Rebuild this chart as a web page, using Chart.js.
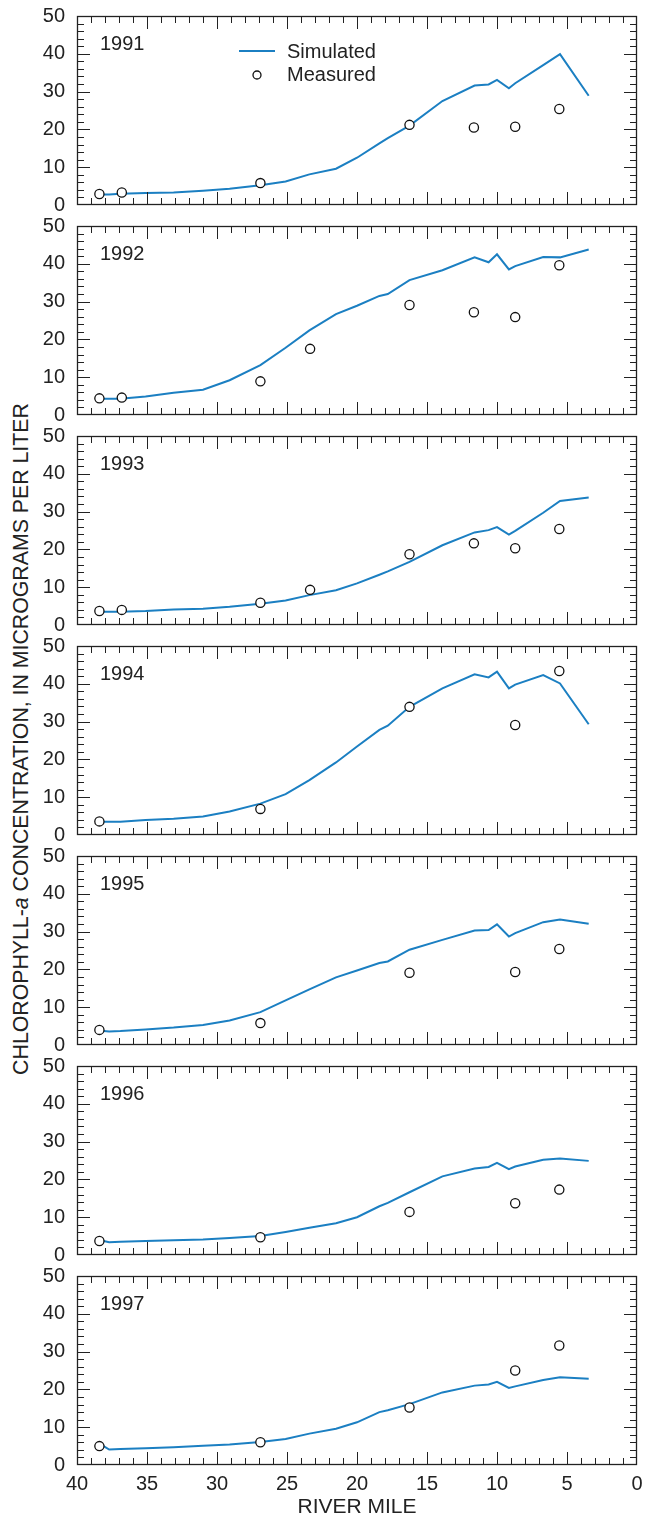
<!DOCTYPE html>
<html>
<head>
<meta charset="utf-8">
<script src="https://cdn.jsdelivr.net/npm/chart.js@4.4.1/dist/chart.umd.min.js"></script>
<style>
  body { margin: 0; background: #fff; }
  #wrap { position: relative; width: 650px; height: 1520px; overflow: hidden; }
  #wrap canvas { position: absolute; left: 0; }
  #ytitle {
    position: absolute; left: 21px; top: 739px;
    transform: translate(-50%, -50%) rotate(-90deg);
    white-space: nowrap; color: #222;
    font: 21.3px "Liberation Sans", Arial, Helvetica, sans-serif;
  }
</style>
</head>
<body>
<div id="wrap">
  <div id="ytitle">CHLOROPHYLL-<i>a</i> CONCENTRATION, IN MICROGRAMS PER LITER</div>
</div>
<script>
const years = ["1991", "1992", "1993", "1994", "1995", "1996", "1997"];

// river mile of the model nodes (simulated line)
const simMiles = [38.1, 37.7, 36.9, 35.1, 33.1, 31.0, 29.1, 26.9, 25.1, 23.4, 21.5, 20.0,
                  18.4, 17.8, 16.25, 13.9, 11.6, 10.6, 10.0, 9.15, 8.7, 6.7, 5.5, 3.45];

const sim1991 = [2.8, 2.8, 3.0, 3.2, 3.3, 3.8, 4.3, 5.2, 6.2, 8.1, 9.6, 12.5, 16.3, 17.7, 21.0, 27.5, 31.6, 31.9, 33.1, 30.9, 32.2, 37.0, 39.9, 28.9];
const sim1992 = [4.3, 4.3, 4.3, 4.9, 5.9, 6.7, 9.2, 13.2, 17.8, 22.4, 26.7, 28.9, 31.5, 32.0, 35.7, 38.3, 41.7, 40.4, 42.5, 38.5, 39.4, 41.8, 41.7, 43.8];
const sim1993 = [3.5, 3.5, 3.5, 3.7, 4.1, 4.3, 4.8, 5.6, 6.5, 7.9, 9.2, 11.0, 13.3, 14.2, 16.7, 21.1, 24.5, 25.1, 25.9, 23.9, 24.9, 29.7, 32.8, 33.7];
const sim1994 = [3.5, 3.5, 3.5, 4.0, 4.3, 4.9, 6.2, 8.3, 10.8, 14.5, 19.2, 23.4, 27.8, 28.9, 33.9, 38.8, 42.5, 41.7, 43.2, 38.8, 39.8, 42.3, 40.1, 29.3];
const sim1995 = [3.7, 3.6, 3.7, 4.1, 4.6, 5.3, 6.5, 8.7, 11.8, 14.7, 17.9, 19.7, 21.7, 22.1, 25.2, 27.8, 30.3, 30.4, 31.9, 28.7, 29.6, 32.5, 33.2, 32.1];
const sim1996 = [3.7, 3.4, 3.5, 3.7, 3.9, 4.1, 4.5, 5.0, 6.1, 7.2, 8.4, 10.0, 12.9, 13.8, 16.6, 20.8, 22.9, 23.3, 24.4, 22.7, 23.4, 25.2, 25.5, 24.9];
const sim1997 = [5.0, 4.1, 4.2, 4.4, 4.7, 5.1, 5.4, 6.1, 6.9, 8.3, 9.6, 11.3, 14.0, 14.5, 16.1, 19.2, 21.0, 21.3, 22.0, 20.4, 20.8, 22.5, 23.2, 22.8];
const simValues = [sim1991, sim1992, sim1993, sim1994, sim1995, sim1996, sim1997];

// river mile of the sampling stations (measured circles)
const measMiles = [38.4, 36.8, 26.9, 23.35, 16.25, 11.65, 8.7, 5.55];

const meas1991 = [2.9, 3.3, 5.8, null, 21.2, 20.5, 20.7, 25.4];
const meas1992 = [4.4, 4.6, 8.9, 17.5, 29.1, 27.2, 25.9, 39.6];
const meas1993 = [3.7, 4.0, 5.9, 9.3, 18.7, 21.6, 20.3, 25.4];
const meas1994 = [3.6, null, 6.9, null, 33.9, null, 29.1, 43.4];
const meas1995 = [4.0, null, 5.8, null, 19.1, null, 19.3, 25.4];
const meas1996 = [3.7, null, 4.7, null, 11.4, null, 13.7, 17.3];
const meas1997 = [5.0, null, 6.0, null, 15.2, null, 25.0, 31.6];
const measValues = [meas1991, meas1992, meas1993, meas1994, meas1995, meas1996, meas1997];

const yTicks = [0, 10, 20, 30, 40, 50];
const xTicks = [40, 35, 30, 25, 20, 15, 10, 5, 0];

const FONT = '"Liberation Sans", Arial, Helvetica, sans-serif';
const INK = '#222';
const BLUE = '#1b7fc2';

// frame, inward ticks on all four sides, year label and legend
const framePlugin = {
  id: 'framePlugin',
  afterDatasetsDraw(chart, args, opts) {
    const { ctx, chartArea: a } = chart;
    const x = chart.scales.x, y = chart.scales.y;
    ctx.save();
    ctx.strokeStyle = INK;
    ctx.lineWidth = 1;
    ctx.beginPath();
    for (let v = 1; v < 40; v++) {
      const px = Math.round(x.getPixelForValue(v)) + 0.5;
      const len = v % 5 === 0 ? 13 : 7;
      ctx.moveTo(px, a.top); ctx.lineTo(px, a.top + len);
      ctx.moveTo(px, a.bottom); ctx.lineTo(px, a.bottom - len);
    }
    for (let v = 2; v < 50; v += 2) {
      const py = Math.round(y.getPixelForValue(v)) + 0.5;
      const len = v % 10 === 0 ? 13 : 7;
      ctx.moveTo(a.left, py); ctx.lineTo(a.left + len, py);
      ctx.moveTo(a.right, py); ctx.lineTo(a.right - len, py);
    }
    ctx.stroke();
    ctx.lineWidth = 1.3;
    ctx.strokeRect(Math.round(a.left) + 0.5, Math.round(a.top) + 0.5,
                   Math.round(a.width) - 1, Math.round(a.height) - 1);

    ctx.fillStyle = INK;
    ctx.font = '20px ' + FONT;
    ctx.textBaseline = 'alphabetic';
    ctx.fillText(opts.year, a.left + 23, a.top + 34);

    if (opts.legend) {
      ctx.strokeStyle = BLUE;
      ctx.lineWidth = 2;
      ctx.beginPath();
      ctx.moveTo(239, a.top + 35); ctx.lineTo(275, a.top + 35);
      ctx.stroke();
      ctx.strokeStyle = '#111';
      ctx.lineWidth = 1.3;
      ctx.beginPath();
      ctx.arc(257, a.top + 59, 4, 0, Math.PI * 2);
      ctx.stroke();
      ctx.fillText('Simulated', 287, a.top + 41.5);
      ctx.fillText('Measured', 287, a.top + 65);
    }
    ctx.restore();
  }
};

const wrap = document.getElementById('wrap');

years.forEach((year, i) => {
  const last = i === years.length - 1;
  const canvas = document.createElement('canvas');
  const h = last ? 260 : 230;
  canvas.width = 650;
  canvas.height = h;
  canvas.style.top = (210 * i) + 'px';
  wrap.appendChild(canvas);

  const simData = simMiles.map((m, k) => ({ x: m, y: simValues[i][k] }));
  const measData = measMiles
    .map((m, k) => ({ x: m, y: measValues[i][k] }))
    .filter(p => p.y !== null);

  new Chart(canvas, {
    type: 'scatter',
    data: {
      datasets: [
        {
          label: 'Measured',
          data: measData,
          pointRadius: 4.6,
          pointBorderWidth: 1.3,
          pointBorderColor: '#111',
          pointBackgroundColor: '#fff',
          showLine: false
        },
        {
          label: 'Simulated',
          data: simData,
          showLine: true,
          borderColor: BLUE,
          borderWidth: 2,
          pointRadius: 0,
          tension: 0
        }
      ]
    },
    options: {
      responsive: false,
      animation: false,
      devicePixelRatio: 1,
      layout: { padding: { left: 0, right: 13, top: 16, bottom: last ? 0 : h - 205 } },
      plugins: {
        legend: { display: false },
        tooltip: { enabled: false },
        framePlugin: { year: year, legend: i === 0 }
      },
      scales: {
        x: {
          type: 'linear',
          display: last,
          reverse: true,
          min: 0,
          max: 40,
          grid: { display: false, drawTicks: false },
          border: { display: false },
          afterBuildTicks: (s) => { s.ticks = xTicks.map(v => ({ value: v })); },
          afterFit: (s) => {
            s.paddingLeft = 0; s.paddingRight = 0;
            if (last) s.height = 55;
          },
          ticks: {
            padding: 7,
            color: INK,
            font: { family: FONT, size: 20 },
            maxRotation: 0,
            autoSkip: false
          },
          title: {
            display: true,
            text: 'RIVER MILE',
            color: INK,
            padding: 0,
            font: { family: FONT, size: 21 }
          }
        },
        y: {
          min: 0,
          max: 50,
          grid: { display: false, drawTicks: false },
          border: { display: false },
          afterBuildTicks: (s) => { s.ticks = yTicks.map(v => ({ value: v })); },
          afterFit: (s) => { s.width = 77; s.paddingTop = 0; s.paddingBottom = 0; },
          ticks: {
            padding: 12,
            autoSkip: false,
            color: INK,
            font: { family: FONT, size: 20 }
          }
        }
      }
    },
    plugins: [framePlugin]
  });
});
</script>
</body>
</html>
